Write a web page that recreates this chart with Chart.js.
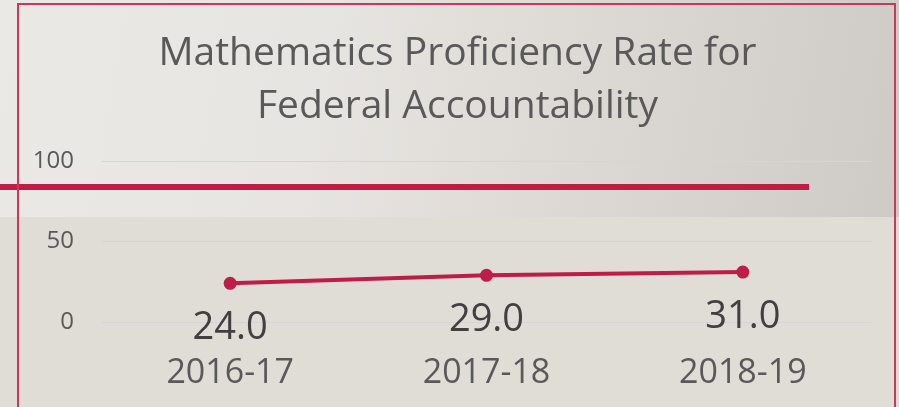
<!DOCTYPE html>
<html>
<head>
<meta charset="utf-8">
<script src="https://cdn.jsdelivr.net/npm/chart.js@4/dist/chart.umd.min.js"></script>
<style>
  html, body { margin: 0; padding: 0; }
  body { width: 899px; height: 407px; overflow: hidden; position: relative; background: #e0ddd7; }
  #topBg { position: absolute; left: 0; top: 0; width: 899px; height: 217px;
    background: linear-gradient(100deg, #ebe9e6 0%, #e7e5e1 35%, #dcd9d4 65%, #cecac5 100%); }
  #bar { position: absolute; left: 0; top: 184px; width: 809px; height: 6px; background: #be1e45; }
  #frame { position: absolute; left: 17px; top: 3px; width: 875px; height: 420px; border: 2px solid #c9385b; border-bottom: none; }
  #wrap { position: absolute; left: 0; top: 0; width: 899px; height: 407px; }
</style>
</head>
<body>
<div id="topBg"></div>
<div id="bar"></div>
<div id="frame"></div>
<div id="wrap"><canvas id="c" width="899" height="407"></canvas></div>
<script>
const titleLines = ['Mathematics Proficiency Rate for', 'Federal Accountability'];
const categories = ['2016-17', '2017-18', '2018-19'];
const proficiency = [24.0, 29.0, 31.0];
const yTicks = [0, 50, 100];

const valueLabels = {
  id: 'valueLabels',
  afterLayout(chart) {
    if (chart.titleBlock) { chart.titleBlock.left += 11; }
  },
  afterDatasetsDraw(chart) {
    const ctx = chart.ctx;
    const meta = chart.getDatasetMeta(0);
    ctx.save();
    ctx.font = '38px "Open Sans"';
    ctx.fillStyle = '#404040';
    ctx.textAlign = 'center';
    ctx.textBaseline = 'middle';
    meta.data.forEach((pt, i) => {
      ctx.fillText(proficiency[i].toFixed(1), pt.x, pt.y + 45);
    });
    ctx.restore();
  }
};

new Chart(document.getElementById('c'), {
  type: 'line',
  data: {
    labels: categories,
    datasets: [{
      data: proficiency,
      borderColor: '#be1e45',
      backgroundColor: '#be1e45',
      borderWidth: 4,
      pointRadius: 6.5,
      pointBorderWidth: 0,
      pointBackgroundColor: '#be1e45',
      tension: 0,
      fill: false
    }]
  },
  options: {
    responsive: false,
    devicePixelRatio: 1,
    animation: false,
    layout: { padding: { left: 33, right: 28, top: 0, bottom: 14 } },
    plugins: {
      legend: { display: false },
      tooltip: { enabled: false },
      title: {
        display: true,
        text: titleLines,
        color: '#595959',
        font: { family: 'Open Sans', size: 39, weight: 'normal', lineHeight: 53 / 39 },
        padding: { top: 27, bottom: 28 }
      }
    },
    scales: {
      x: {
        offset: true,
        afterFit(scale) { scale.height = 71; },
        grid: { display: false, drawTicks: false },
        border: { display: false },
        ticks: { color: '#595959', font: { family: 'Open Sans', size: 34 }, padding: 31, maxRotation: 0 }
      },
      y: {
        min: 0,
        max: 100,
        afterBuildTicks(scale) { scale.ticks = yTicks.map(v => ({ value: v })); },
        afterFit(scale) { scale.width = 69; },
        grid: { color: '#d5d5d5', lineWidth: 1, drawTicks: false },
        border: { display: false },
        ticks: { color: '#595959', font: { family: 'Open Sans', size: 24 }, padding: 28 }
      }
    }
  },
  plugins: [valueLabels]
});
</script>
</body>
</html>
